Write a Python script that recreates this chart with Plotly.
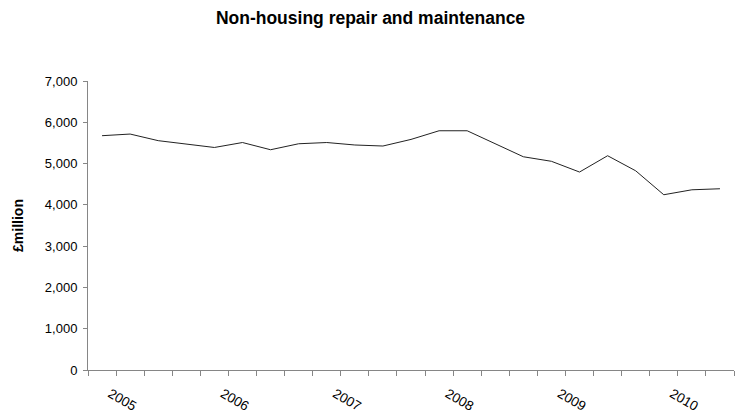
import plotly.graph_objects as go

# Quarterly output, 2005 Q1 to 2010 Q3 (£ million)
quarters = [
    "2005 Q1", "2005 Q2", "2005 Q3", "2005 Q4",
    "2006 Q1", "2006 Q2", "2006 Q3", "2006 Q4",
    "2007 Q1", "2007 Q2", "2007 Q3", "2007 Q4",
    "2008 Q1", "2008 Q2", "2008 Q3", "2008 Q4",
    "2009 Q1", "2009 Q2", "2009 Q3", "2009 Q4",
    "2010 Q1", "2010 Q2", "2010 Q3",
]
values = [
    5675, 5715, 5555, 5465,
    5390, 5510, 5335, 5480,
    5510, 5450, 5425, 5585,
    5795, 5795, 5480, 5165,
    5055, 4795, 5190, 4825,
    4245, 4365, 4390,
]
year_labels = ["2005", "2006", "2007", "2008", "2009", "2010"]
y_ticks = [0, 1000, 2000, 3000, 4000, 5000, 6000, 7000]

idx = list(range(len(quarters)))
# year labels sit just right of each Q1 point, as slanted text
year_pos = [quarters.index(y + " Q1") + 0.3 for y in year_labels]
boundaries = [i - 0.5 for i in range(len(quarters) + 1)]

FONT = "Liberation Sans, Arial, sans-serif"
AXIS_COLOR = "#868686"
HEIGHT = 420

fig = go.Figure()
fig.add_trace(go.Scatter(
    x=idx, y=values, mode="lines",
    line=dict(color="#222222", width=1),
    customdata=quarters,
    hovertemplate="%{customdata}: %{y:,.0f}<extra></extra>",
    showlegend=False,
))

fig.update_layout(
    width=741, height=HEIGHT,
    margin=dict(l=88, r=7, t=81, b=50),
    paper_bgcolor="white", plot_bgcolor="white",
    font=dict(family=FONT, size=13, color="#000000"),
    title=dict(
        text="<b>Non-housing repair and maintenance</b>",
        x=0.5, xref="container", xanchor="center",
        y=1 - 18 / HEIGHT, yref="container", yanchor="middle",
        font=dict(family=FONT, size=17.5, color="#000000"),
    ),
)

fig.update_xaxes(
    range=[-0.5, len(quarters) - 0.5],
    showgrid=False, zeroline=False,
    showline=True, linecolor=AXIS_COLOR, linewidth=1,
    tickmode="array", tickvals=year_pos, ticktext=year_labels,
    ticks="outside", ticklen=0, tickangle=30,
    ticklabelstandoff=10,
    tickfont=dict(family=FONT, size=13.5, color="#000000"),
    minor=dict(tickmode="array", tickvals=boundaries,
               ticks="outside", ticklen=5, tickcolor=AXIS_COLOR, showgrid=False),
)
fig.update_yaxes(
    range=[0, 7000],
    tickmode="array", tickvals=y_ticks,
    tickformat=",d",
    showgrid=False, zeroline=False,
    showline=True, linecolor=AXIS_COLOR, linewidth=1,
    ticks="outside", ticklen=4, tickcolor=AXIS_COLOR,
    ticklabelstandoff=3,
    tickfont=dict(family=FONT, size=13, color="#000000"),
    title=dict(text="<b>£million</b>", standoff=17,
               font=dict(family=FONT, size=14, color="#000000")),
)

fig.write_html("out.html")
